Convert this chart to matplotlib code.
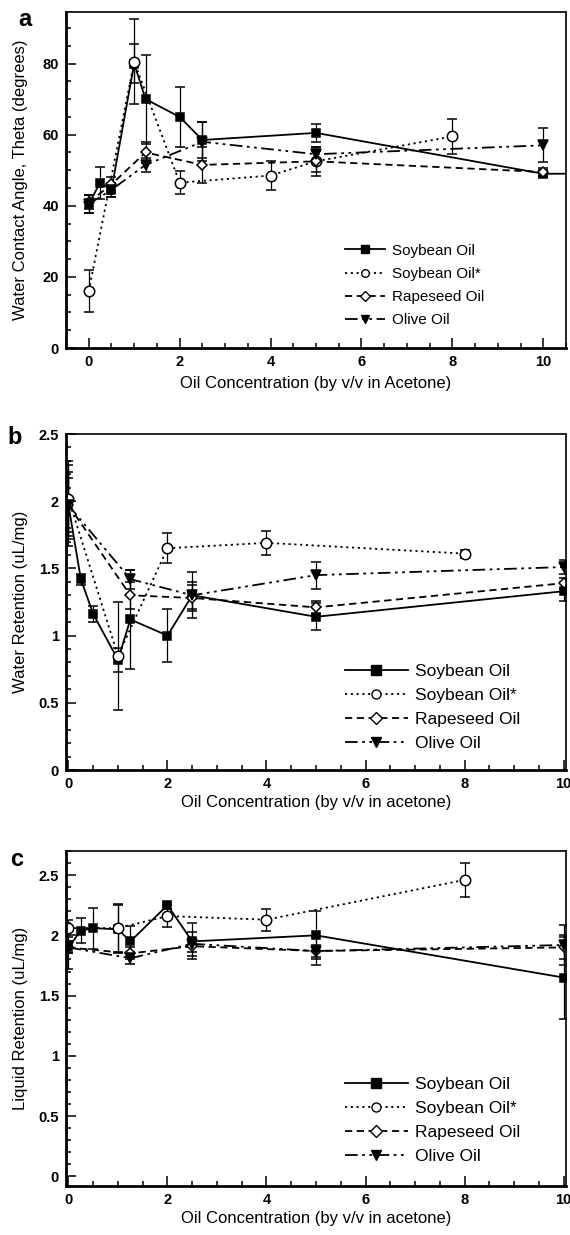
import numpy as np
import matplotlib.pyplot as plt
from matplotlib.lines import Line2D
from matplotlib.ticker import MultipleLocator, FuncFormatter

plt.rcParams['font.family'] = ['Liberation Sans', 'DejaVu Sans']

# ---- panel a: water contact angle (degrees)
a_soy_x = [0, 0.25, 0.5, 1, 1.25, 2, 2.5, 5, 10, 20]
a_soy_y = [40.5, 46.5, 44.5, 80, 70, 65, 58.5, 60.5, 49, 49.5]
a_soy_e = [2.5, 4.5, 2, 5.5, 12.5, 8.5, 5, 2.5, 1, 0]
a_soy2_x = [0, 1, 2, 4, 5, 8]
a_soy2_y = [16, 80.5, 46.5, 48.5, 52.5, 59.5]
a_soy2_e = [6, 12, 3.3, 4, 4, 4.8]
a_rape_x = [0, 0.5, 1.25, 2.5, 5, 10]
a_rape_y = [41, 46, 55, 51.5, 52.5, 49.5]
a_rape_e = [2, 2, 3, 5, 3, 1]
a_olive_x = [0, 0.5, 1.25, 2.5, 5, 10]
a_olive_y = [40.5, 44.5, 51.5, 58, 54.5, 57]
a_olive_e = [2.5, 2, 2, 5.5, 2, 4.8]

# ---- panel b: water retention (uL/mg)
b_soy_x = [0, 0.25, 0.5, 1, 1.25, 2, 2.5, 5, 10]
b_soy_y = [1.97, 1.42, 1.16, 0.82, 1.12, 1.0, 1.3, 1.14, 1.33]
b_soy_e = [0.3, 0.04, 0.06, 0.09, 0.37, 0.2, 0.17, 0.1, 0.07]
b_soy2_x = [0, 1, 2, 4, 8]
b_soy2_y = [2.02, 0.85, 1.65, 1.69, 1.61]
b_soy2_e = [0.28, 0.4, 0.11, 0.09, 0.03]
b_rape_x = [0, 1.25, 2.5, 5, 10]
b_rape_y = [1.97, 1.3, 1.28, 1.21, 1.39]
b_rape_e = [0.25, 0.1, 0.1, 0.05, 0.04]
b_olive_x = [0, 1.25, 2.5, 5, 10]
b_olive_y = [1.97, 1.42, 1.3, 1.45, 1.51]
b_olive_e = [0.2, 0.07, 0.1, 0.1, 0.05]

# ---- panel c: liquid retention (uL/mg)
c_soy_x = [0, 0.25, 0.5, 1, 1.25, 2, 2.5, 5, 10]
c_soy_y = [1.9, 2.04, 2.06, 2.05, 1.95, 2.25, 1.95, 2.0, 1.65]
c_soy_e = [0.18, 0.1, 0.17, 0.2, 0.13, 0.03, 0.15, 0.2, 0.34]
c_soy2_x = [0, 1, 2, 4, 8]
c_soy2_y = [2.06, 2.06, 2.16, 2.13, 2.46]
c_soy2_e = [0.07, 0.2, 0.09, 0.09, 0.14]
c_rape_x = [0, 1.25, 2.5, 5, 10]
c_rape_y = [1.9, 1.85, 1.91, 1.87, 1.9]
c_rape_e = [0.05, 0.05, 0.05, 0.05, 0.1]
c_olive_x = [0, 1.25, 2.5, 5, 10]
c_olive_y = [1.9, 1.81, 1.93, 1.87, 1.92]
c_olive_e = [0.05, 0.05, 0.1, 0.12, 0.17]

labels = ['Soybean Oil', 'Soybean Oil*', 'Rapeseed Oil', 'Olive Oil']

styles = [
    dict(ls='-', marker='s', mfc='black', ms=6),
    dict(ls=(0, (1.2, 2)), marker='o', mfc='white', ms=7.5),
    dict(ls=(0, (4, 2.5)), marker='D', mfc='white', ms=5.5),
    dict(ls=(0, (7, 2.5, 1.5, 2.5, 1.5, 2.5)), marker='v', mfc='black', ms=7),
]


def draw(ax, series, legend_font, leg_pos, handlelen, leg_ms, spacing):
    handles = []
    for (x, y, e), st in zip(series, styles):
        ax.errorbar(x, y, yerr=e, color='black', lw=1.3, ls=st['ls'],
                    marker=st['marker'], mfc=st['mfc'], mec='black', mew=1.1,
                    ms=st['ms'], elinewidth=0.9, capsize=3.5, capthick=0.9)
        handles.append(Line2D([], [], color='black', lw=1.3, ls=st['ls'],
                              marker=st['marker'], mfc=st['mfc'], mec='black',
                              mew=1.0, ms=leg_ms))
    for s in ax.spines.values():
        s.set_linewidth(1.2)
    ax.spines['bottom'].set_linewidth(2)
    ax.spines['left'].set_linewidth(2)
    ax.tick_params(which='both', direction='in', top=False, right=False,
                   width=1.1, labelsize=10.5, pad=5)
    ax.tick_params(which='major', length=7)
    ax.tick_params(which='minor', length=3.5)
    for t in ax.get_xticklabels() + ax.get_yticklabels():
        t.set_fontweight('bold')
    ax.xaxis.set_major_locator(MultipleLocator(2))
    ax.xaxis.set_minor_locator(MultipleLocator(0.5))
    ax.yaxis.set_major_formatter(FuncFormatter(lambda v, p: '%g' % v))
    ax.legend(handles, labels, loc='upper left', bbox_to_anchor=leg_pos,
              frameon=False, fontsize=legend_font, borderpad=0,
              borderaxespad=0, handlelength=handlelen, handletextpad=0.45,
              labelspacing=spacing)


fig = plt.figure(figsize=(5.7, 12.35), dpi=100)
H = 1235.0
ax_a = fig.add_axes([66 / 570, 1 - 348 / H, 500 / 570, 336 / H])
ax_b = fig.add_axes([66 / 570, 1 - 770 / H, 500 / 570, 336 / H])
ax_c = fig.add_axes([66 / 570, 1 - 1186 / H, 500 / 570, 335 / H])

draw(ax_a, [(a_soy_x, a_soy_y, a_soy_e), (a_soy2_x, a_soy2_y, a_soy2_e),
            (a_rape_x, a_rape_y, a_rape_e), (a_olive_x, a_olive_y, a_olive_e)],
     11, (0.558, 0.31), 2.6, 5.5, 0.6)
ax_a.set_xlim(-0.5, 10.5)
ax_a.set_ylim(0, 94.5)
ax_a.yaxis.set_major_locator(MultipleLocator(20))
ax_a.yaxis.set_minor_locator(MultipleLocator(5))
ax_a.set_ylabel('Water Contact Angle, Theta (degrees)', fontsize=12)
ax_a.set_xlabel('Oil Concentration (by v/v in Acetone)', fontsize=12, labelpad=5)

draw(ax_b, [(b_soy_x, b_soy_y, b_soy_e), (b_soy2_x, b_soy2_y, b_soy2_e),
            (b_rape_x, b_rape_y, b_rape_e), (b_olive_x, b_olive_y, b_olive_e)],
     12.5, (0.558, 0.315), 3.6, 6.5, 0.5)
ax_b.set_xlim(-0.05, 10.05)
ax_b.set_ylim(0, 2.5)
ax_b.yaxis.set_major_locator(MultipleLocator(0.5))
ax_b.yaxis.set_minor_locator(MultipleLocator(0.1))
ax_b.set_ylabel('Water Retention (uL/mg)', fontsize=12)
ax_b.set_xlabel('Oil Concentration (by v/v in acetone)', fontsize=12, labelpad=3)

draw(ax_c, [(c_soy_x, c_soy_y, c_soy_e), (c_soy2_x, c_soy2_y, c_soy2_e),
            (c_rape_x, c_rape_y, c_rape_e), (c_olive_x, c_olive_y, c_olive_e)],
     12.5, (0.558, 0.325), 3.6, 6.5, 0.5)
ax_c.set_xlim(-0.05, 10.05)
ax_c.set_ylim(-0.08, 2.7)
ax_c.yaxis.set_major_locator(MultipleLocator(0.5))
ax_c.yaxis.set_minor_locator(MultipleLocator(0.1))
ax_c.set_ylabel('Liquid Retention (uL/mg)', fontsize=12)
ax_c.set_xlabel('Oil Concentration (by v/v in acetone)', fontsize=12, labelpad=3)

for ax in (ax_a, ax_b, ax_c):
    ax.yaxis.set_label_coords(-0.075, 0.5)

fig.text(25 / 570, 1 - 19 / H, 'a', fontsize=17, fontweight='bold', ha='center', va='center')
fig.text(15 / 570, 1 - 437 / H, 'b', fontsize=17, fontweight='bold', ha='center', va='center')
fig.text(17 / 570, 1 - 860 / H, 'c', fontsize=17, fontweight='bold', ha='center', va='center')

fig.savefig('out.png', dpi=100)
